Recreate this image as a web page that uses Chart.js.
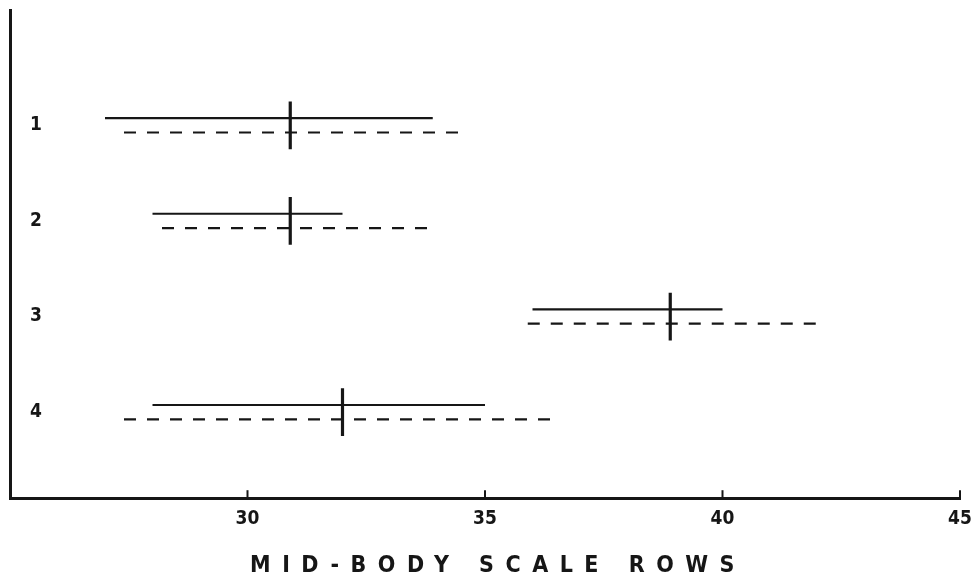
<!DOCTYPE html>
<html>
<head>
<meta charset="utf-8">
<script src="https://cdn.jsdelivr.net/npm/chart.js@4"></script>
<style>
  html, body { margin: 0; padding: 0; background: #fff; }
  #wrap { width: 974px; height: 579px; position: relative; }
</style>
</head>
<body>
<div id="wrap"><canvas id="chart"></canvas></div>
<script>
// rows 1..4, ranges
const rows      = [1, 2, 3, 4];
const rowLabels = ['1', '2', '3', '4'];
const solidLow  = [27.0, 28.0, 36.0, 28.0];
const solidHigh = [33.9, 32.0, 40.0, 35.0];
const dashLow   = [27.4, 28.2, 35.9, 27.4];
const dashHigh  = [34.6, 33.9, 42.0, 36.6];
const means     = [30.9, 30.9, 38.9, 32.0];
const xTicks    = [30, 35, 40, 45];
const xTitle    = 'MID-BODY SCALE ROWS';

const INK = '#161616';
const FONT = "'DejaVu Sans Condensed', 'Liberation Sans Narrow', sans-serif";
const SOLID_OFF = -0.075, DASH_OFF = 0.075, MARK_HALF = 0.25;

const datasets = [];
rows.forEach((r, i) => {
  datasets.push({
    data: [{ x: solidLow[i], y: r + SOLID_OFF }, { x: solidHigh[i], y: r + SOLID_OFF }],
    borderColor: INK, borderWidth: 2.2
  });
  datasets.push({
    data: [{ x: dashLow[i], y: r + DASH_OFF }, { x: dashHigh[i], y: r + DASH_OFF }],
    borderColor: INK, borderWidth: 2.2, borderDash: [12, 11]
  });
  datasets.push({
    data: [{ x: means[i], y: r - MARK_HALF }, { x: means[i], y: r + MARK_HALF }],
    borderColor: INK, borderWidth: 3.2
  });
});

// small upward tick marks on the x axis + spaced-out axis title
const axisExtras = {
  id: 'axisExtras',
  afterDraw(chart) {
    const { ctx, chartArea, scales: { x } } = chart;
    ctx.save();
    ctx.strokeStyle = INK;
    ctx.lineWidth = 2;
    xTicks.forEach(v => {
      const px = x.getPixelForValue(v);
      ctx.beginPath();
      ctx.moveTo(px, chartArea.bottom);
      ctx.lineTo(px, chartArea.bottom - 8);
      ctx.stroke();
    });
    ctx.fillStyle = INK;
    ctx.font = "bold 23px " + FONT;
    ctx.letterSpacing = '11.5px';
    ctx.textAlign = 'center';
    ctx.textBaseline = 'middle';
    ctx.fillText(xTitle, 498, 566);
    ctx.restore();
  }
};

new Chart(document.getElementById('chart'), {
  type: 'line',
  data: { datasets },
  plugins: [axisExtras],
  options: {
    responsive: true,
    maintainAspectRatio: false,
    animation: false,
    parsing: false,
    layout: { padding: { left: 9, right: 14, top: 10, bottom: 40 } },
    plugins: { legend: { display: false }, tooltip: { enabled: false } },
    elements: { point: { radius: 0 }, line: { tension: 0, borderCapStyle: 'butt' } },
    scales: {
      x: {
        type: 'linear', min: 25, max: 45,
        afterBuildTicks: s => { s.ticks = xTicks.map(v => ({ value: v })); },
        afterFit: s => { s.paddingLeft = 0; s.paddingRight = 0; },
        grid: { display: false, drawTicks: false },
        border: { display: true, color: INK, width: 3 },
        ticks: { color: INK, font: { family: FONT, size: 19, weight: 'bold' }, padding: 9, maxRotation: 0 }
      },
      y: {
        type: 'linear', reverse: true, min: -0.206, max: 4.9,
        afterBuildTicks: s => { s.ticks = rows.map(v => ({ value: v })); },
        afterFit: s => { s.width = 1; s.paddingTop = 0; s.paddingBottom = 0; },
        grid: { display: false, drawTicks: false },
        border: { display: true, color: INK, width: 3 },
        ticks: {
          mirror: true, padding: 20, color: INK,
          font: { family: FONT, size: 19, weight: 'bold' },
          callback: v => rowLabels[rows.indexOf(v)]
        }
      }
    }
  }
});
</script>
</body>
</html>
